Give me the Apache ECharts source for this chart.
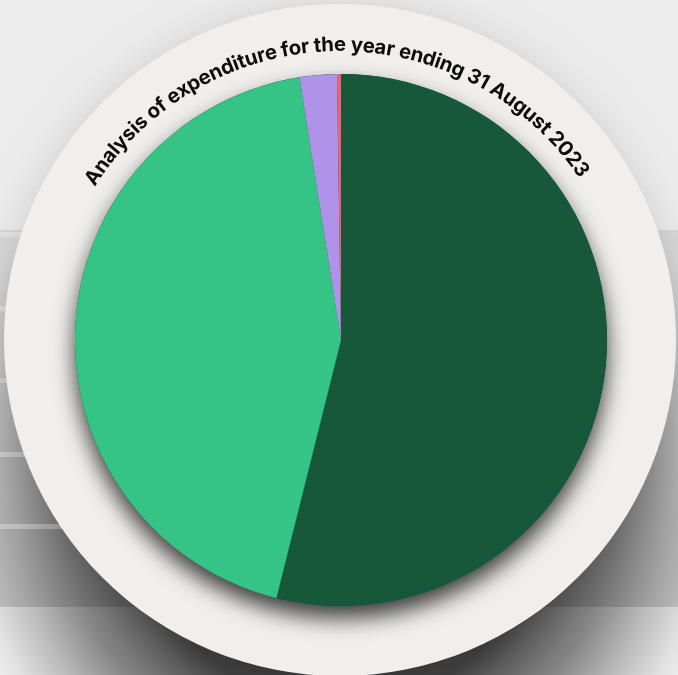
<!DOCTYPE html>
<html><head><meta charset="utf-8">
<script src="https://cdn.jsdelivr.net/npm/echarts@6/dist/echarts.min.js"></script>
<style>html,body{margin:0;padding:0;background:#ececec;overflow:hidden}#c{width:678px;height:675px}</style>
</head><body><div id="c"></div>
<script>
const titleText = 'Analysis of expenditure for the year ending 31 August 2023';
const categories = ['Staff costs', 'Other operating costs', 'Depreciation', 'Interest and finance costs'];
const values = [53.9, 43.6, 2.26, 0.24];
const colors = ['#17573A', '#36C486', '#AE93E8', '#F0607A'];

const chart = echarts.init(document.getElementById('c'), null, {renderer: 'canvas'});

// layout
const CX = 340, CY = 340, R_OUT = 336, R_PIE = 266;
const TEXT_R = 295, SPAN_DEG = 114, CENTER_DEG = -1;

// curved title: one text element per character along an arc
const ctx = document.createElement('canvas').getContext('2d');
const fam = 'Inter, "Noto Sans", sans-serif';
ctx.font = '700 20px ' + fam;
const fullW = ctx.measureText(titleText).width;
const targetArc = SPAN_DEG * Math.PI / 180 * TEXT_R;
const fs = 20 * targetArc / fullW;
const font = '700 ' + fs.toFixed(2) + 'px ' + fam;
ctx.font = font;
const chars = Array.from(titleText);
const total = ctx.measureText(titleText).width;
const start = CENTER_DEG * Math.PI / 180 - total / 2 / TEXT_R;
const titleEls = [];
for (let i = 0; i < chars.length; i++) {
  const pre = ctx.measureText(titleText.slice(0, i)).width;
  const w = ctx.measureText(titleText.slice(0, i + 1)).width - pre;
  const th = start + (pre + w / 2) / TEXT_R;
  if (chars[i] === ' ') continue;
  titleEls.push({
    type: 'text',
    x: CX + TEXT_R * Math.sin(th),
    y: CY - TEXT_R * Math.cos(th),
    rotation: -th,
    z: 20,
    silent: true,
    style: {text: chars[i], font: font, fill: '#0d0d0d', align: 'center', verticalAlign: 'middle'}
  });
}

const bandYs = [235, 309, 381, 455, 527];
const bandEls = bandYs.map(y => ({
  type: 'rect', z: 2, silent: true,
  shape: {x: 0, y: y - 3, width: 300, height: 5},
  style: {fill: 'rgba(255,255,255,0.3)'}
}));

// drop shadow of the frame as a radial gradient, shifted downwards
const shadowEl = {
  type: 'circle', z: 1, silent: true,
  shape: {cx: CX, cy: CY + 160, r: 410},
  style: {
    fill: {
      type: 'radial', x: 0.5, y: 0.5, r: 0.5,
      colorStops: [
        {offset: 0, color: 'rgba(0,0,0,0.8)'},
        {offset: 0.5, color: 'rgba(0,0,0,0.75)'},
        {offset: 0.57, color: 'rgba(0,0,0,0.62)'},
        {offset: 0.68, color: 'rgba(0,0,0,0.46)'},
        {offset: 0.79, color: 'rgba(0,0,0,0.26)'},
        {offset: 0.89, color: 'rgba(0,0,0,0.1)'},
        {offset: 1, color: 'rgba(0,0,0,0)'}
      ]
    }
  }
};

const option = {
  backgroundColor: '#ececec',
  animation: false,
  graphic: [
    {type: 'rect', z: 0, silent: true, shape: {x: 0, y: 230, width: 678, height: 377},
      style: {fill: '#d8d8d8'}},
    {type: 'rect', z: 0, silent: true, shape: {x: 0, y: 607, width: 678, height: 70},
      style: {fill: '#fcfcfc'}},
    shadowEl,
    ...bandEls,
    ...titleEls
  ],
  series: [
    {
      type: 'pie', z: 3, silent: true, center: [CX, CY], radius: R_OUT,
      label: {show: false}, labelLine: {show: false},
      itemStyle: {color: '#f0efed', shadowBlur: 40, shadowColor: 'rgba(0,0,0,0.14)', shadowOffsetY: 4},
      data: [{value: 1, name: 'frame'}]
    },
    {
      type: 'pie', z: 4, silent: true, center: [CX + 1, CY], radius: R_PIE,
      label: {show: false}, labelLine: {show: false},
      itemStyle: {color: '#17573A', shadowBlur: 22, shadowColor: 'rgba(0,0,0,0.75)', shadowOffsetY: 12},
      data: [{value: 1, name: 'shadow'}]
    },
    {
      type: 'pie', z: 5, name: 'Expenditure', center: [CX + 1, CY], radius: R_PIE,
      startAngle: 90, clockwise: true,
      label: {show: false}, labelLine: {show: false},
      emphasis: {disabled: true},
      itemStyle: {borderWidth: 0},
      data: categories.map((c, i) => ({name: c, value: values[i], itemStyle: {color: colors[i]}}))
    }
  ]
};
chart.setOption(option);
</script>
</body></html>
